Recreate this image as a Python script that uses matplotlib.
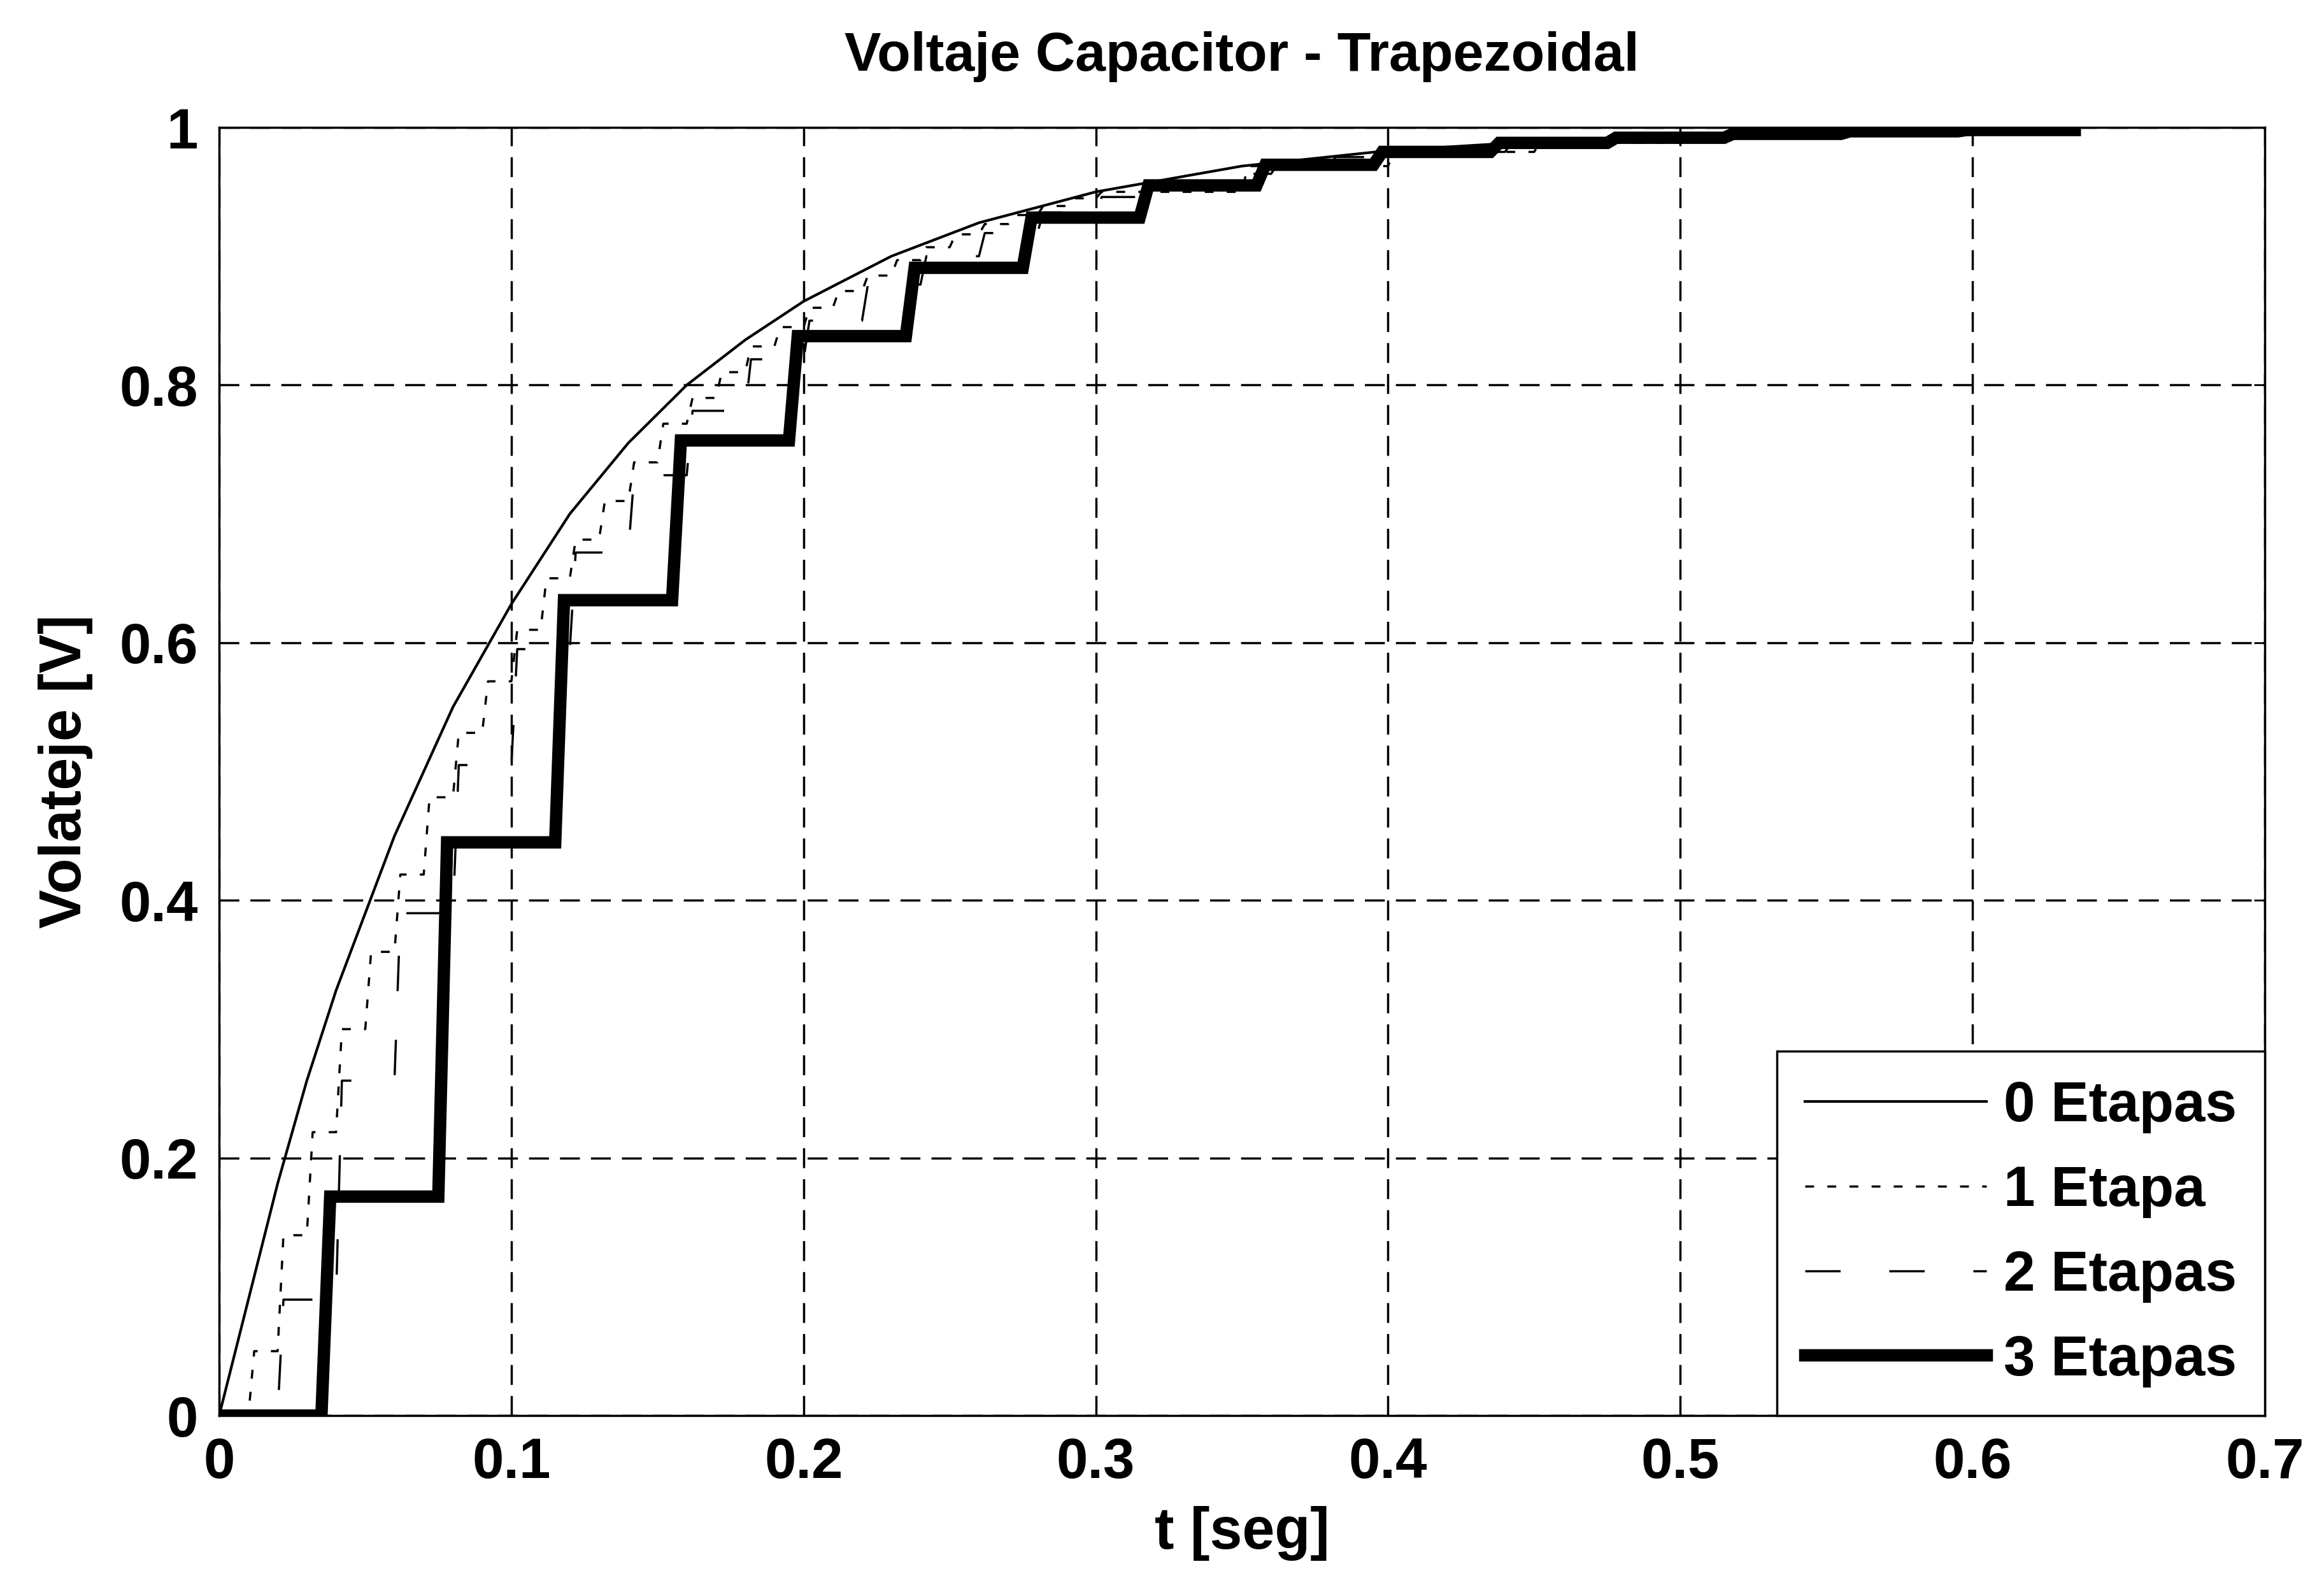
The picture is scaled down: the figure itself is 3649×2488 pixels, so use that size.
import matplotlib
matplotlib.use('Agg')
import matplotlib.pyplot as plt
import numpy as np

plt.rcParams['font.family'] = ['Liberation Sans', 'DejaVu Sans']
plt.rcParams['font.weight'] = 'bold'

# 0 Etapas - smooth response
t0 = [0, 0.005, 0.01, 0.02, 0.03, 0.04, 0.05, 0.06, 0.07, 0.08, 0.09, 0.10,
      0.12, 0.14, 0.16, 0.18, 0.20, 0.23, 0.26, 0.30, 0.35, 0.40, 0.45,
      0.50, 0.55, 0.60, 0.635]
v0 = [0, 0.045, 0.09, 0.18, 0.26, 0.33, 0.39, 0.45, 0.50, 0.55, 0.59, 0.63,
      0.70, 0.755, 0.80, 0.835, 0.865, 0.90, 0.926, 0.95, 0.97, 0.982, 0.989,
      0.993, 0.996, 0.997, 0.998]

# 1 Etapa - staircase, steps every 0.01 s
t1 = [0.01, 0.02, 0.03, 0.04, 0.05, 0.06, 0.07, 0.08, 0.09, 0.10,
      0.11, 0.12, 0.13, 0.14, 0.15, 0.16, 0.17, 0.18, 0.19, 0.20,
      0.21, 0.22, 0.23, 0.24, 0.25, 0.26, 0.27, 0.28, 0.29, 0.30,
      0.35, 0.40, 0.45, 0.50, 0.55, 0.60]
v1 = [0.05, 0.14, 0.22, 0.30, 0.36, 0.42, 0.48, 0.53, 0.57, 0.61,
      0.65, 0.68, 0.71, 0.74, 0.77, 0.79, 0.81, 0.83, 0.845, 0.86,
      0.873, 0.885, 0.897, 0.907, 0.917, 0.925, 0.932, 0.939, 0.945, 0.95,
      0.97, 0.981, 0.988, 0.993, 0.996, 0.997]

# 2 Etapas - staircase, steps every 0.02 s
t2 = [0.02, 0.04, 0.06, 0.08, 0.10, 0.12, 0.14, 0.16, 0.18, 0.20,
      0.22, 0.24, 0.26, 0.28, 0.30, 0.32, 0.34, 0.36, 0.38, 0.40,
      0.44, 0.48, 0.52, 0.56, 0.60]
v2 = [0.09, 0.26, 0.39, 0.505, 0.595, 0.67, 0.73, 0.78, 0.82, 0.85,
      0.878, 0.90, 0.918, 0.934, 0.946, 0.956, 0.964, 0.971, 0.977, 0.981,
      0.987, 0.991, 0.994, 0.996, 0.997]

# 3 Etapas - staircase, steps every ~0.04 s
t3 = [0.035, 0.075, 0.115, 0.155, 0.195, 0.235, 0.275, 0.315, 0.355, 0.395,
      0.435, 0.475, 0.515, 0.555, 0.595]
v3 = [0.17, 0.445, 0.633, 0.757, 0.838, 0.891, 0.93, 0.955, 0.971, 0.981,
      0.988, 0.992, 0.995, 0.997, 0.998]

t_end = 0.635
labels = ['0 Etapas', '1 Etapa', '2 Etapas', '3 Etapas']


#build staircase points from step times and levels
def stairs(times, levels, rise):
    xs, ys = [0.0], [0.0]
    prev = 0.0
    for t, v in zip(times, levels):
        xs += [t, t + rise]
        ys += [prev, v]
        prev = v
    xs.append(t_end)
    ys.append(prev)
    return np.array(xs), np.array(ys)


fig = plt.figure(figsize=(36.49, 24.88), dpi=100)
ax = fig.add_axes([0.0943, 0.1069, 0.8802, 0.8127])

x1, y1 = stairs(t1, v1, 0.002)
x2, y2 = stairs(t2, v2, 0.002)
x3, y3 = stairs(t3, v3, 0.003)

ax.plot(t0, v0, color='black', lw=3, label=labels[0])
ax.plot(x1, y1, color='black', lw=2.5, linestyle=(0, (4, 6)), label=labels[1])
ax.plot(x2, y2, color='black', lw=2.5, linestyle=(0, (16, 22)), label=labels[2])
ax.plot(x3, y3, color='black', lw=14, solid_joinstyle='miter', label=labels[3])

ax.set_xlim(0, 0.7)
ax.set_ylim(0, 1)
ax.set_xticks([0, 0.1, 0.2, 0.3, 0.4, 0.5, 0.6, 0.7])
ax.set_xticklabels(['0', '0.1', '0.2', '0.3', '0.4', '0.5', '0.6', '0.7'])
ax.set_yticks([0, 0.2, 0.4, 0.6, 0.8, 1])
ax.set_yticklabels(['0', '0.2', '0.4', '0.6', '0.8', '1'])
ax.grid(True, color='black', lw=2.5, linestyle=(0, (9, 5)))
ax.tick_params(direction='in', length=12, width=2, labelsize=64,
               top=True, right=True, pad=24)
for s in ax.spines.values():
    s.set_linewidth(2.5)

ax.set_title('Voltaje Capacitor - Trapezoidal', fontsize=62, pad=64,
             fontweight='bold')
ax.set_xlabel('t [seg]', fontsize=66, labelpad=18, fontweight='bold')
ax.set_ylabel('Volateje [V]', fontsize=66, labelpad=30, fontweight='bold')

leg = ax.legend(loc='lower right', fontsize=64, borderaxespad=0,
                handlelength=3.2, handletextpad=0.3, labelspacing=0.55,
                fancybox=False, framealpha=1, edgecolor='black',
                borderpad=0.5)
leg.get_frame().set_linewidth(2.5)

plt.savefig('out.png', dpi=100)
plt.close()
